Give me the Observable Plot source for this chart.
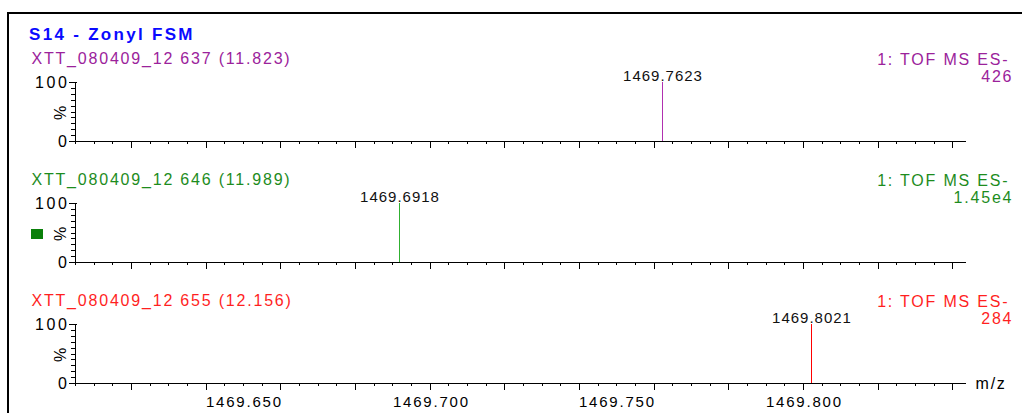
<!DOCTYPE html>
<html><head><meta charset="utf-8">
<script src="https://cdn.jsdelivr.net/npm/d3@7"></script>
<script src="https://cdn.jsdelivr.net/npm/@observablehq/plot@0.6"></script>
<style>
html,body{margin:0;padding:0;background:#fff;}
#wrap{position:relative;width:1022px;height:413px;overflow:hidden;font-family:"Liberation Sans",Arial,sans-serif;}
#frame{position:absolute;left:7px;top:12px;width:1040px;height:440px;border-top:2px solid #000;border-left:2px solid #000;}
#title{position:absolute;left:29px;top:26px;font-size:17px;line-height:17px;font-weight:bold;color:#0a0aff;letter-spacing:2.3px;white-space:nowrap;}
.panel{position:absolute;left:0;}
.marker{position:absolute;left:31px;top:229px;width:12px;height:10px;background:#0a800a;}
</style></head><body>
<div id="wrap"><div id="frame"></div><div id="title">S14 - Zonyl FSM</div><div class="marker"></div></div>
<script>
// ---- data ----
const scanLabels = ["XTT_080409_12 637 (11.823)", "XTT_080409_12 646 (11.989)", "XTT_080409_12 655 (12.156)"];
const functionLabels = ["1: TOF MS ES-", "1: TOF MS ES-", "1: TOF MS ES-"];
const intensityLabels = ["426", "1.45e4", "284"];
const peakMz = [1469.7623, 1469.6918, 1469.8021];
const peakPercent = [100, 100, 100];
const seriesColors = ["#9b229b", "#1d8c1d", "#ff1f1f"];
const peakLineColors = ["#b030b0", "#30b030", "#ff0000"];
const xLabelTicks = [1469.650, 1469.700, 1469.750, 1469.800];
const yLabelTicks = [0, 100];
const xDomain = [1469.605, 1469.8437];
const yDomain = [0, 100];
const xUnit = "m/z";
const yUnit = "%";

// ---- layout ----
const panelTops = [42, 163, 284];
const W = 1022, H = 128, MT = 40, MB = 29, ML = 75, MR = 56;
const LS = 1.8; // letter spacing
const minorX = d3.ticks(xDomain[0], xDomain[1], 48);
const majorX = d3.ticks(xDomain[0], xDomain[1], 10);
const minorY = d3.ticks(yDomain[0], yDomain[1], 10);

const wrap = document.getElementById("wrap");
scanLabels.forEach((scan, i) => {
  const last = i === scanLabels.length - 1;
  const color = seriesColors[i];
  const peaks = [{mz: peakMz[i], pct: peakPercent[i], label: peakMz[i].toFixed(4)}];
  const chart = Plot.plot({
    width: W, height: H, marginTop: MT, marginBottom: MB, marginLeft: ML, marginRight: MR,
    style: {background: "transparent", overflow: "visible", fontFamily: "'Liberation Sans', Arial, sans-serif", letterSpacing: LS + "px", color: "#000"},
    x: {domain: xDomain, round: true},
    y: {domain: yDomain, round: true},
    marks: [
      Plot.axisX({ticks: minorX, tickSize: 3, text: null, label: null}),
      Plot.axisX({ticks: majorX, tickSize: 7, text: null, label: null}),
      last ? Plot.axisX({ticks: xLabelTicks, tickSize: 0, tickPadding: 13, tickFormat: d3.format(".3f"), fontSize: 15, label: null, dx: LS / 2}) : null,
      Plot.axisY({ticks: minorY, tickSize: 4, text: null, label: null}),
      Plot.axisY({ticks: yLabelTicks, tickSize: 8, tickPadding: 0, fontSize: 16, label: null, dx: 2}),
      Plot.ruleY([yDomain[0]], {stroke: "#000"}),
      Plot.ruleX([xDomain[0]], {stroke: "#000"}),
      Plot.ruleX(peaks, {x: "mz", y1: 0, y2: "pct", stroke: peakLineColors[i], strokeWidth: 1, shapeRendering: "crispEdges"}),
      Plot.text(peaks, {x: "mz", y: "pct", text: "label", lineAnchor: "bottom", dy: -2, dx: 0.5, fontSize: 15, fill: "#111"}),
      Plot.text([scan], {frameAnchor: "top-left", text: d => d, dx: -44, dy: -19, lineAnchor: "bottom", textAnchor: "start", fontSize: 16, fill: color}),
      Plot.text([functionLabels[i]], {frameAnchor: "top-right", text: d => d, dx: 41 + LS, dy: -18, lineAnchor: "bottom", textAnchor: "end", fontSize: 16, fill: color}),
      Plot.text([intensityLabels[i]], {frameAnchor: "top-right", text: d => d, dx: 45 + LS, dy: -1, lineAnchor: "bottom", textAnchor: "end", fontSize: 16, fill: color}),
      Plot.text([yUnit], {frameAnchor: "left", text: d => d, dx: -15, rotate: -90, textAnchor: "middle", lineAnchor: "middle", fontSize: 16, fill: "#000"}),
      last ? Plot.text([xUnit], {frameAnchor: "bottom-right", text: d => d, dx: 9, dy: 5, textAnchor: "start", lineAnchor: "bottom", fontSize: 16, fill: "#000"}) : null
    ]
  });
  // first text mark = peak labels: tighter tracking
  d3.select(chart).selectAll('g[aria-label="text"]').filter((d, k) => k === 0).style("letter-spacing", "1px");
  d3.select(chart).selectAll('g[aria-label="y-axis tick label"]').style("letter-spacing", "2.6px");
  const div = document.createElement("div");
  div.className = "panel";
  div.style.top = panelTops[i] + "px";
  div.appendChild(chart);
  wrap.appendChild(div);
});
</script>
</body></html>
